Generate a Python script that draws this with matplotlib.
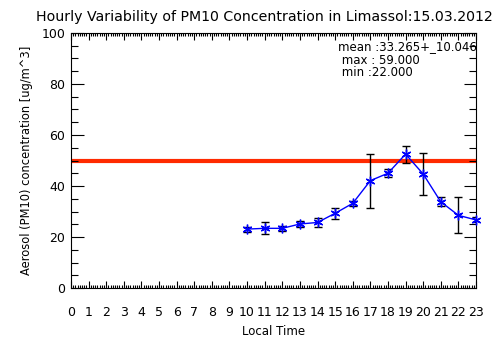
import matplotlib
matplotlib.use("Agg")
import matplotlib.pyplot as plt
from matplotlib.ticker import MultipleLocator

hours = [10, 11, 12, 13, 14, 15, 16, 17, 18, 19, 20, 21, 22, 23]
pm10 = [23.1, 23.4, 23.4, 25.1, 25.7, 29.3, 33.2, 42.1, 45.0, 52.5, 44.7, 33.8, 28.5, 26.7]
pm10_err = [1.0, 2.3, 1.1, 1.0, 1.9, 2.2, 1.0, 10.6, 1.5, 3.3, 8.2, 1.7, 7.1, 1.0]
limit = 50
xticks = list(range(0, 24))
title = "Hourly Variability of PM10 Concentration in Limassol:15.03.2012"
stats = ["mean :33.265+_10.046", " max : 59.000", " min :22.000"]

fig = plt.figure(figsize=(5.04, 3.61), dpi=100)
ax = fig.add_axes([71/504, 1-288/361, (476-71)/504, (288-33)/361])

ax.axhline(limit, color="#ff2a00", lw=3.0, zorder=1)
ax.errorbar(hours, pm10, yerr=pm10_err, fmt="none", ecolor="black",
            elinewidth=1.0, capsize=3, capthick=1.0, zorder=2)
ax.plot(hours, pm10, color="blue", lw=1.0, marker=(6, 2, 0),
        markersize=7, markeredgewidth=1.0, zorder=3, clip_on=False)

ax.set_xlim(0, 23)
ax.set_ylim(0, 100)
ax.set_xticks(xticks)
ax.set_xticklabels([str(h) for h in xticks])
ax.xaxis.set_minor_locator(MultipleLocator(0.125))
ax.yaxis.set_major_locator(MultipleLocator(20))
ax.yaxis.set_minor_locator(MultipleLocator(5))
ax.tick_params(which="both", direction="in", top=True, right=True,
               labelsize=9, width=0.8)
ax.tick_params(axis="x", which="major", length=5, pad=13)
ax.tick_params(axis="x", which="minor", length=2)
ax.tick_params(axis="y", which="major", length=9, pad=4)
ax.tick_params(axis="y", which="minor", length=5)
for s in ax.spines.values():
    s.set_linewidth(0.8)

ax.set_xlabel("Local Time", fontsize=8.5, labelpad=4)
ax.set_ylabel("Aerosol (PM10) concentration [ug/m^3]", fontsize=8.3, labelpad=6)

fig.text(36/504, 1-17/361, title, fontsize=10.2, ha="left", va="center")
for i, s in enumerate(stats):
    fig.text(338/504, 1-(47+13*i)/361, s, fontsize=8.5, ha="left", va="center")

fig.savefig("out.png", dpi=100)
